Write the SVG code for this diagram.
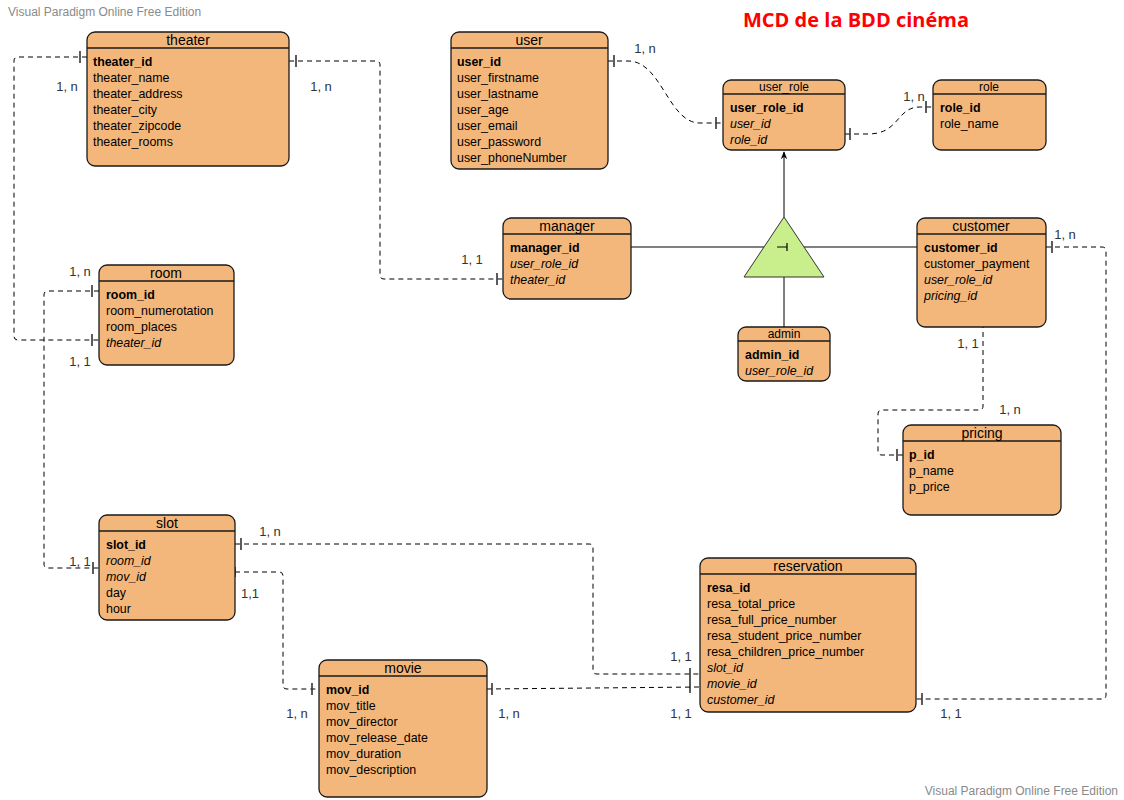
<svg xmlns="http://www.w3.org/2000/svg" width="1124" height="800" viewBox="0 0 1124 800">
<defs>
<marker id="arr" viewBox="0 0 10 10" refX="9" refY="5" markerWidth="8" markerHeight="8" orient="auto">
<path d="M0,1 L10,5 L0,9 L3,5 z" fill="#000"/>
</marker>
</defs>
<style>
text{font-family:"Liberation Sans",Arial,sans-serif;}
.box{fill:#f4b77b;stroke:#1a1a1a;stroke-width:1.3;}
.hl{stroke:#1a1a1a;stroke-width:1.3;}
.ttl{font-size:14px;text-anchor:middle;fill:#000;}
.ttls{font-size:12px;text-anchor:middle;fill:#000;}
.a{font-size:12.4px;fill:#000;}
.pk{font-weight:bold;}
.fk{font-style:italic;}
.dash{fill:none;stroke:#000;stroke-width:1;stroke-dasharray:5,4;}
.tick{stroke:#333;stroke-width:1.6;}
.lbl{font-size:13px;fill:#333;text-anchor:middle;}
.solid{fill:none;stroke:#000;stroke-width:1;}
.wm{font-size:12px;fill:#8a8a8a;}
</style>
<rect width="1124" height="800" fill="#fff"/>
<text class="wm" x="8" y="16">Visual Paradigm Online Free Edition</text>
<text class="wm" x="1118" y="795" text-anchor="end">Visual Paradigm Online Free Edition</text>
<text x="856" y="27" text-anchor="middle" style="font-family:'Open Sans','Noto Sans',sans-serif;font-weight:bold;font-size:20px;fill:#ff0000">MCD de la BDD cinéma</text>

<g id="connectors">
<path class="dash" d="M87,57 H18 Q14,57 14,61 V336 Q14,340 18,340 H99"/>
<line class="tick" x1="80" y1="51" x2="80" y2="63"/>
<line class="tick" x1="92" y1="334" x2="92" y2="346"/>
<path class="dash" d="M289,61 H376 Q380,61 380,65 V275 Q380,279 384,279 H503"/>
<line class="tick" x1="296" y1="55" x2="296" y2="67"/>
<line class="tick" x1="497" y1="273" x2="497" y2="285"/>
<path class="dash" d="M608,61 H628 C662,61 668,123 700,123 H723"/>
<line class="tick" x1="614" y1="55" x2="614" y2="67"/>
<line class="tick" x1="716" y1="117" x2="716" y2="129"/>
<path class="dash" d="M845,134 H868 C900,134 896,107 920,107 H933"/>
<line class="tick" x1="850" y1="128" x2="850" y2="140"/>
<line class="tick" x1="926" y1="101" x2="926" y2="113"/>
<path class="dash" d="M99,291 H48 Q44,291 44,295 V564 Q44,568 48,568 H99"/>
<line class="tick" x1="92" y1="285" x2="92" y2="297"/>
<line class="tick" x1="93" y1="562" x2="93" y2="574"/>
<path class="dash" d="M235,544 H589 Q593,544 593,548 V670 Q593,674 597,674 H700"/>
<line class="tick" x1="241" y1="538" x2="241" y2="550"/>
<line class="tick" x1="690" y1="668" x2="690" y2="693"/>
<path class="dash" d="M235,572 H279 Q283,572 283,576 V685 Q283,689 287,689 H319"/>
<line class="tick" x1="235" y1="567" x2="235" y2="577"/>
<line class="tick" x1="312" y1="683" x2="312" y2="695"/>
<path class="dash" d="M487,689 L700,687"/>
<line class="tick" x1="492" y1="683" x2="492" y2="695"/>
<path class="dash" d="M1046,247 H1102 Q1106,247 1106,251 V695 Q1106,699 1102,699 H916"/>
<line class="tick" x1="1052" y1="241" x2="1052" y2="253"/>
<line class="tick" x1="922" y1="693" x2="922" y2="705"/>
<path class="dash" d="M983,305 V406 Q983,410 979,410 H882 Q878,410 878,414 V451 Q878,455 882,455 H903"/>
<line class="tick" x1="977" y1="310" x2="989" y2="310"/>
<line class="tick" x1="897" y1="449" x2="897" y2="461"/>
<path class="solid" d="M784,217 V152" marker-end="url(#arr)"/>
<path class="solid" d="M631,247 H764"/>
<path class="solid" d="M804,247 H917"/>
<path class="solid" d="M784,277 V327"/>
</g>

<g id="labels">
<text class="lbl" x="67" y="91">1, n</text>
<text class="lbl" x="80" y="366">1, 1</text>
<text class="lbl" x="321" y="91">1, n</text>
<text class="lbl" x="472" y="264">1, 1</text>
<text class="lbl" x="645" y="53">1, n</text>
<text class="lbl" x="914" y="101">1, n</text>
<text class="lbl" x="80" y="276">1, n</text>
<text class="lbl" x="80" y="566">1, 1</text>
<text class="lbl" x="270" y="536">1, n</text>
<text class="lbl" x="250" y="598">1,1</text>
<text class="lbl" x="681" y="661">1, 1</text>
<text class="lbl" x="297" y="718">1, n</text>
<text class="lbl" x="509" y="718">1, n</text>
<text class="lbl" x="681" y="718">1, 1</text>
<text class="lbl" x="951" y="718">1, 1</text>
<text class="lbl" x="1065" y="239">1, n</text>
<text class="lbl" x="968" y="348">1, 1</text>
<text class="lbl" x="1010" y="414">1, n</text>
</g>

<g id="inheritance">
<polygon points="784,217 744,277 824,277" fill="#c8ef8c" stroke="#333" stroke-width="1"/>
<path d="M777,247 H787 M787,243 V251" stroke="#000" stroke-width="1.2" fill="none"/>
</g>

<g id="theater">
<rect class="box" x="87" y="32" width="202" height="134" rx="8"/>
<line class="hl" x1="87" y1="48" x2="289" y2="48"/>
<text class="ttl" x="188" y="45">theater</text>
<text class="a pk" x="93" y="66">theater_id</text>
<text class="a" x="93" y="82">theater_name</text>
<text class="a" x="93" y="98">theater_address</text>
<text class="a" x="93" y="114">theater_city</text>
<text class="a" x="93" y="130">theater_zipcode</text>
<text class="a" x="93" y="146">theater_rooms</text>
</g>

<g id="user">
<rect class="box" x="451" y="32" width="157" height="137" rx="8"/>
<line class="hl" x1="451" y1="48" x2="608" y2="48"/>
<text class="ttl" x="529" y="45">user</text>
<text class="a pk" x="457" y="66">user_id</text>
<text class="a" x="457" y="82">user_firstname</text>
<text class="a" x="457" y="98">user_lastname</text>
<text class="a" x="457" y="114">user_age</text>
<text class="a" x="457" y="130">user_email</text>
<text class="a" x="457" y="146">user_password</text>
<text class="a" x="457" y="162">user_phoneNumber</text>
</g>

<g id="user_role">
<rect class="box" x="723" y="80" width="122" height="70" rx="8"/>
<line class="hl" x1="723" y1="94" x2="845" y2="94"/>
<text class="ttls" x="784" y="91">user_role</text>
<text class="a pk" x="730" y="112">user_role_id</text>
<text class="a fk" x="730" y="128">user_id</text>
<text class="a fk" x="730" y="144">role_id</text>
</g>

<g id="role">
<rect class="box" x="933" y="80" width="113" height="70" rx="8"/>
<line class="hl" x1="933" y1="94" x2="1046" y2="94"/>
<text class="ttls" x="989" y="91">role</text>
<text class="a pk" x="940" y="112">role_id</text>
<text class="a" x="940" y="128">role_name</text>
</g>

<g id="manager">
<rect class="box" x="503" y="218" width="128" height="81" rx="8"/>
<line class="hl" x1="503" y1="234" x2="631" y2="234"/>
<text class="ttl" x="567" y="231">manager</text>
<text class="a pk" x="510" y="252">manager_id</text>
<text class="a fk" x="510" y="268">user_role_id</text>
<text class="a fk" x="510" y="284">theater_id</text>
</g>

<g id="customer">
<rect class="box" x="917" y="218" width="129" height="109" rx="8"/>
<line class="hl" x1="917" y1="234" x2="1046" y2="234"/>
<text class="ttl" x="981" y="231">customer</text>
<text class="a pk" x="924" y="252">customer_id</text>
<text class="a" x="924" y="268">customer_payment</text>
<text class="a fk" x="924" y="284">user_role_id</text>
<text class="a fk" x="924" y="300">pricing_id</text>
</g>

<g id="admin">
<rect class="box" x="738" y="327" width="92" height="54" rx="8"/>
<line class="hl" x1="738" y1="341" x2="830" y2="341"/>
<text class="ttls" x="784" y="338">admin</text>
<text class="a pk" x="745" y="359">admin_id</text>
<text class="a fk" x="745" y="375">user_role_id</text>
</g>

<g id="room">
<rect class="box" x="99" y="265" width="135" height="100" rx="8"/>
<line class="hl" x1="99" y1="281" x2="234" y2="281"/>
<text class="ttl" x="166" y="278">room</text>
<text class="a pk" x="106" y="299">room_id</text>
<text class="a" x="106" y="315">room_numerotation</text>
<text class="a" x="106" y="331">room_places</text>
<text class="a fk" x="106" y="347">theater_id</text>
</g>

<g id="pricing">
<rect class="box" x="903" y="425" width="158" height="90" rx="8"/>
<line class="hl" x1="903" y1="441" x2="1061" y2="441"/>
<text class="ttl" x="982" y="438">pricing</text>
<text class="a pk" x="909" y="459">p_id</text>
<text class="a" x="909" y="475">p_name</text>
<text class="a" x="909" y="491">p_price</text>
</g>

<g id="slot">
<rect class="box" x="99" y="515" width="136" height="105" rx="8"/>
<line class="hl" x1="99" y1="531" x2="235" y2="531"/>
<text class="ttl" x="167" y="528">slot</text>
<text class="a pk" x="106" y="549">slot_id</text>
<text class="a fk" x="106" y="565">room_id</text>
<text class="a fk" x="106" y="581">mov_id</text>
<text class="a" x="106" y="597">day</text>
<text class="a" x="106" y="613">hour</text>
</g>

<g id="movie">
<rect class="box" x="319" y="660" width="168" height="137" rx="8"/>
<line class="hl" x1="319" y1="676" x2="487" y2="676"/>
<text class="ttl" x="403" y="673">movie</text>
<text class="a pk" x="326" y="694">mov_id</text>
<text class="a" x="326" y="710">mov_title</text>
<text class="a" x="326" y="726">mov_director</text>
<text class="a" x="326" y="742">mov_release_date</text>
<text class="a" x="326" y="758">mov_duration</text>
<text class="a" x="326" y="774">mov_description</text>
</g>

<g id="reservation">
<rect class="box" x="700" y="558" width="216" height="154" rx="8"/>
<line class="hl" x1="700" y1="574" x2="916" y2="574"/>
<text class="ttl" x="808" y="571">reservation</text>
<text class="a pk" x="707" y="592">resa_id</text>
<text class="a" x="707" y="608">resa_total_price</text>
<text class="a" x="707" y="624">resa_full_price_number</text>
<text class="a" x="707" y="640">resa_student_price_number</text>
<text class="a" x="707" y="656">resa_children_price_number</text>
<text class="a fk" x="707" y="672">slot_id</text>
<text class="a fk" x="707" y="688">movie_id</text>
<text class="a fk" x="707" y="704">customer_id</text>
</g>
</svg>
